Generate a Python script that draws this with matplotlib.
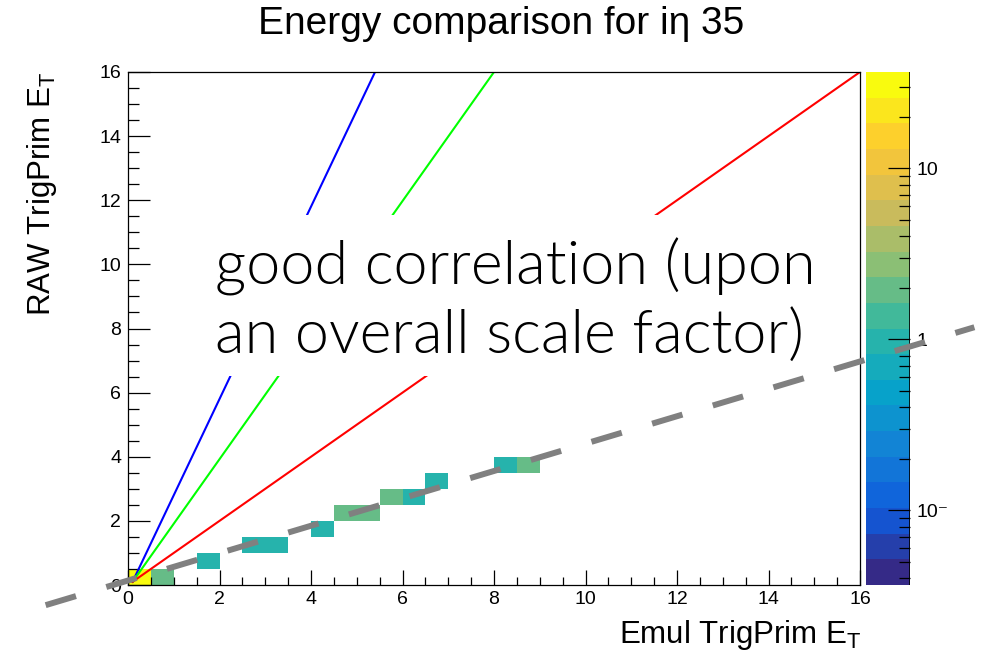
import numpy as np
import matplotlib
matplotlib.use("Agg")
import matplotlib.pyplot as plt
from matplotlib.colors import LinearSegmentedColormap, LogNorm
from matplotlib.patches import Rectangle
from matplotlib.lines import Line2D
from matplotlib.ticker import FixedLocator, NullFormatter

plt.rcParams['font.family'] = ['Liberation Sans', 'DejaVu Sans']
plt.rcParams['mathtext.default'] = 'regular'

# ---------------------------------------------------------------- data
# filled 0.5 x 0.5 bins (lower-left corner) and their entries
bin_x = [0.0, 0.5, 1.5, 2.5, 3.0, 4.0, 4.5, 5.0, 5.5, 6.0, 6.5, 8.0, 8.5]
bin_y = [0.0, 0.0, 0.5, 1.0, 1.0, 1.5, 2.0, 2.0, 2.5, 2.5, 3.0, 3.5, 3.5]
counts = [30, 2, 1, 1, 1, 1, 2, 2, 2, 1, 1, 1, 2]

# reference lines RAW = k * Emul
line_start = (0.1, 0.1)
line_ends_x = [5.4, 8.0, 16.0]
line_ends_y = [16.0, 16.0, 16.0]
line_colors = ['#0000ff', '#00ff00', '#ff0000']

# hand-drawn scale-factor line
fit_slope = 0.427
fit_offset = 0.14
fit_x = [-1.8, 18.5]

title = "Energy comparison for i\u03b7 35"
note = ["good correlation (upon", "an overall scale factor)"]

# ROOT kBird palette, 20 contours
bird_stops = [0.0, 0.125, 0.25, 0.375, 0.5, 0.625, 0.75, 0.875, 1.0]
bird_r = [0.2082, 0.0592, 0.0780, 0.0232, 0.1802, 0.5301, 0.8186, 0.9956, 0.9764]
bird_g = [0.1664, 0.3599, 0.5041, 0.6419, 0.7178, 0.7492, 0.7328, 0.7862, 0.9832]
bird_b = [0.5293, 0.8684, 0.8385, 0.7914, 0.6425, 0.4662, 0.3499, 0.1968, 0.0539]
zmin, zmax = 0.0366, 36.6

# ---------------------------------------------------------------- figure
fig = plt.figure(figsize=(9.85, 6.56), dpi=100)
ax = fig.add_axes([128 / 985, 1 - 585 / 656, 732 / 985, 513 / 656])
cax = fig.add_axes([866 / 985, 1 - 585 / 656, 44 / 985, 513 / 656])

bird = LinearSegmentedColormap.from_list(
    'bird', list(zip(bird_stops, zip(bird_r, bird_g, bird_b))), N=20)

edges = np.arange(0, 16.01, 0.5)
H, xe, ye = np.histogram2d(np.array(bin_x) + 0.25, np.array(bin_y) + 0.25,
                           bins=[edges, edges], weights=counts)
H = np.ma.masked_less_equal(H, 0)
mesh = ax.pcolormesh(xe, ye, H.T, cmap=bird, norm=LogNorm(zmin, zmax))

for xe_, ye_, c in zip(line_ends_x, line_ends_y, line_colors):
    ax.plot([line_start[0], xe_], [line_start[1], ye_], color=c, lw=1.5)

ax.set_xlim(0, 16)
ax.set_ylim(0, 16)
ax.set_xticks(np.arange(0, 17, 2))
ax.set_yticks(np.arange(0, 17, 2))
ax.xaxis.set_minor_locator(FixedLocator(np.arange(0, 16.01, 0.5)))
ax.yaxis.set_minor_locator(FixedLocator(np.arange(0, 16.01, 0.5)))
ax.tick_params(axis='x', which='major', direction='in', length=11, width=0.9,
               labelsize=14, pad=4)
ax.tick_params(axis='x', which='minor', direction='in', length=5.5, width=0.9)
ax.tick_params(axis='y', which='major', direction='in', length=16, width=0.9,
               labelsize=14, pad=5)
ax.tick_params(axis='y', which='minor', direction='in', length=8, width=0.9)
for s in ax.spines.values():
    s.set_linewidth(0.9)

fig.text(501 / 985, 1 - 34 / 656, title, ha='center', va='baseline', fontsize=28)
fig.text(862 / 985, 1 - 643 / 656, "Emul TrigPrim E$_{T}$", ha='right',
         va='baseline', fontsize=22.5)
fig.text(50 / 985, 1 - 72 / 656, "RAW TrigPrim E$_{T}$", ha='right',
         va='baseline', rotation=90, rotation_mode='anchor', fontsize=22.5)

cb = fig.colorbar(mesh, cax=cax)
cb.outline.set_visible(False)
cax.set_yticks([0.1, 1, 10])
cax.set_yticklabels(["10\u207b", "1", "10"])
cax.yaxis.set_minor_formatter(NullFormatter())
cax.tick_params(which='major', direction='in', length=16, width=0.9,
                labelsize=14, pad=5)
cax.tick_params(which='minor', direction='in', length=8, width=0.9)
cax.axvline(1, color='black', lw=1.2)

# white overlay box with the comment, the dashed line sits above it
fig.add_artist(Rectangle((200 / 985, 1 - 376 / 656), 645 / 985, 161 / 656,
                         transform=fig.transFigure, facecolor='white',
                         edgecolor='none', zorder=3))
for i, line in enumerate(note):
    fig.text(215 / 985, 1 - (285 + 68 * i) / 656, line, ha='left',
             va='baseline', fontsize=44, fontweight=300,
             family=['Lato', 'DejaVu Sans'], zorder=4)

fx = np.array(fit_x)
fit = Line2D(fx, fit_offset + fit_slope * fx, transform=ax.transData,
             color='#808080', lw=4.3, dashes=(5.3, 5.3), solid_capstyle='butt',
             dash_capstyle='butt', zorder=5)
fig.add_artist(fit)

fig.savefig("out.png", dpi=100, facecolor='white')
